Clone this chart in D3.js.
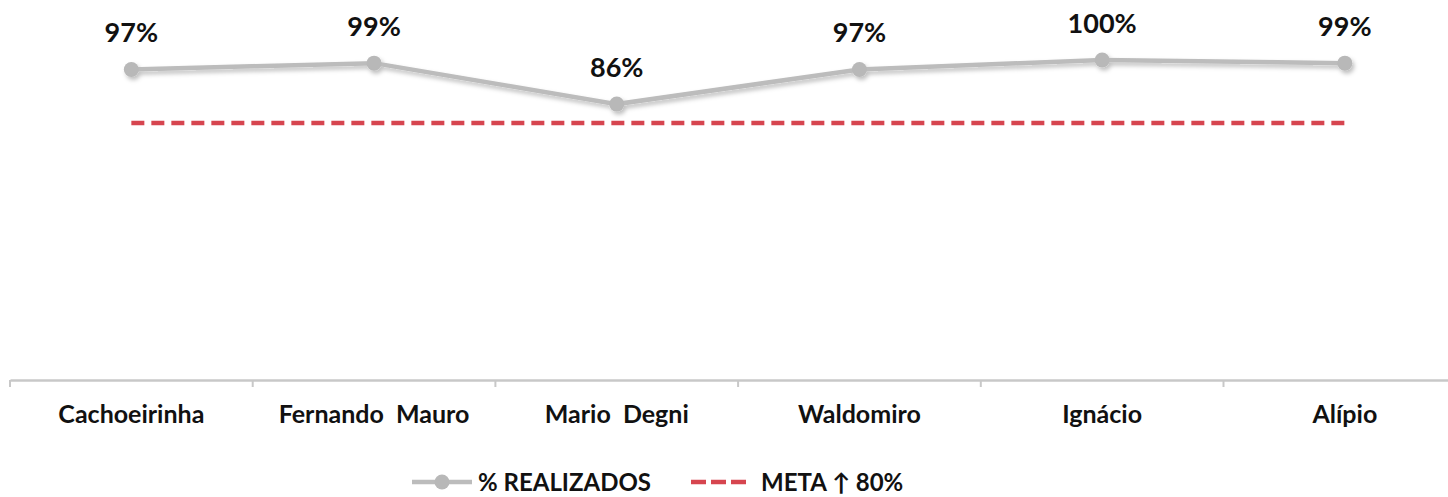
<!DOCTYPE html>
<html>
<head>
<meta charset="utf-8">
<script src="https://cdn.jsdelivr.net/npm/d3@7"></script>
<style>
  body { margin: 0; background: #fff; }
  text { font-family: Lato, "Open Sans", sans-serif; font-weight: bold; fill: #111; }
</style>
</head>
<body>
<svg id="container"></svg>
<script>
const categories = ["Cachoeirinha", "Fernando  Mauro", "Mario  Degni", "Waldomiro", "Ignácio", "Alípio"];
const realizados = [0.97, 0.99, 0.86, 0.97, 1.00, 0.99];
const meta = 0.80;
const legendLabels = ["% REALIZADOS", "META \u2191 80%"];

const W = 1448, H = 497;
const lineColor = "#bcbcbc", metaColor = "#d6454f", axisColor = "#c8c8c8";

var svg = d3.select("#container").attr("width", W).attr("height", H);

var defs = svg.append("defs");
defs.append("filter").attr("id", "shadow")
  .attr("x", "-5%").attr("y", "-50%").attr("width", "110%").attr("height", "200%")
  .append("feDropShadow")
  .attr("dx", 2).attr("dy", 3).attr("stdDeviation", 2)
  .attr("flood-color", "#000").attr("flood-opacity", 0.25);

var xScale = d3.scaleBand().domain(categories).range([10, 10 + 6 * 242.7]);
var yScale = d3.scaleLinear().domain([0, 1]).range([375, 60]);
var cx = d => xScale(d) + xScale.bandwidth() / 2;
var axisY = 380;

// axis
var gX = svg.append("g")
  .attr("transform", "translate(0," + axisY + ")")
  .call(d3.axisBottom(xScale).tickSize(0).tickPadding(25));
gX.select(".domain").attr("stroke", axisColor).attr("stroke-width", 2.5);
gX.selectAll(".tick text")
  .style("font-size", "25px")
  .attr("fill", "#111")
  .style("white-space", "pre");

gX.selectAll(".sep")
  .data(d3.range(categories.length + 1))
  .enter().append("line")
  .attr("x1", i => xScale.range()[0] + i * xScale.step())
  .attr("x2", i => xScale.range()[0] + i * xScale.step())
  .attr("y1", 0).attr("y2", 7)
  .attr("stroke", axisColor).attr("stroke-width", 2);

// meta line
svg.append("line")
  .attr("x1", cx(categories[0]))
  .attr("x2", cx(categories[categories.length - 1]))
  .attr("y1", yScale(meta)).attr("y2", yScale(meta))
  .attr("stroke", metaColor).attr("stroke-width", 4.5)
  .attr("stroke-dasharray", "13,7");

// realizados line
var data = categories.map((c, i) => ({ cat: c, v: realizados[i] }));
var series = svg.append("g").attr("filter", "url(#shadow)");
series.append("path")
  .datum(data)
  .attr("fill", "none")
  .attr("stroke", lineColor).attr("stroke-width", 4.5)
  .attr("d", d3.line().x(d => cx(d.cat)).y(d => yScale(d.v)));
series.selectAll("circle")
  .data(data).enter().append("circle")
  .attr("cx", d => cx(d.cat)).attr("cy", d => yScale(d.v))
  .attr("r", 7.5).attr("fill", "#b8b8b8");

// labels
svg.selectAll(".lbl")
  .data(data).enter().append("text")
  .attr("class", "lbl")
  .attr("x", d => cx(d.cat)).attr("y", d => yScale(d.v) - 27)
  .attr("text-anchor", "middle")
  .style("font-size", "27px")
  .text(d => Math.round(d.v * 100) + "%");

// legend
var leg = svg.append("g").attr("transform", "translate(0,482)");
leg.append("line").attr("x1", 412).attr("x2", 472).attr("y1", 0).attr("y2", 0)
  .attr("stroke", lineColor).attr("stroke-width", 4.5);
leg.append("circle").attr("cx", 442).attr("cy", 0).attr("r", 7.5).attr("fill", "#b8b8b8");
leg.append("text").attr("x", 478).attr("y", 9).style("font-size", "24px").text(legendLabels[0]);
leg.append("line").attr("x1", 691).attr("x2", 747).attr("y1", 0).attr("y2", 0)
  .attr("stroke", metaColor).attr("stroke-width", 4.5).attr("stroke-dasharray", "15,5");
leg.append("text").attr("x", 761).attr("y", 9).style("font-size", "24px").text(legendLabels[1]);
</script>
</body>
</html>
